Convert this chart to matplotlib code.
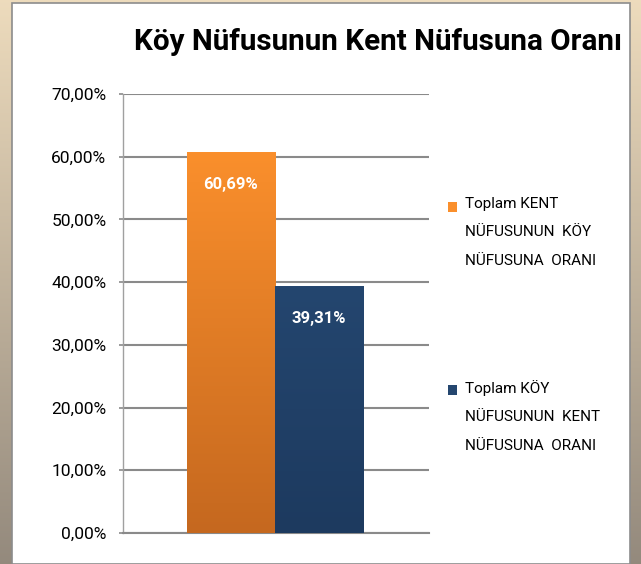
import matplotlib.pyplot as plt
import matplotlib.colors as mc
import numpy as np
from matplotlib.patches import Rectangle

categories = ['Toplam KENT\nNÜFUSUNUN  KÖY\nNÜFUSUNA  ORANI',
              'Toplam KÖY\nNÜFUSUNUN  KENT\nNÜFUSUNA  ORANI']
values = [0.6069, 0.3931]
value_labels = ['60,69%', '39,31%']
yticks = [0.0, 0.1, 0.2, 0.3, 0.4, 0.5, 0.6, 0.7]
ytick_labels = ['0,00%', '10,00%', '20,00%', '30,00%', '40,00%', '50,00%', '60,00%', '70,00%']
title = 'Köy Nüfusunun Kent Nüfusuna Oranı'

top_colors = ['#fa8f2c', '#24466f']
bottom_colors = ['#c5681f', '#1d3a5f']
font = ['Roboto', 'DejaVu Sans']

fig = plt.figure(figsize=(6.41, 5.64), dpi=100)

# frame background: beige-to-gray gradient with a white panel
bg = fig.add_axes([0, 0, 1, 1], zorder=-10)
grad = np.linspace(0, 1, 256)[:, None]
c_top = np.array([0.93, 0.86, 0.74])
c_bot = np.array([0.58, 0.54, 0.49])
img = c_top + (c_bot - c_top) * grad[..., None]
bg.imshow(np.repeat(img, 2, axis=1), aspect='auto', extent=[0, 1, 0, 1])
bg.add_patch(Rectangle((12 / 641, 0), (630 - 12) / 641, 561 / 564,
                       facecolor='white', edgecolor='#8c8c8c', lw=1.2))
bg.set_xlim(0, 1)
bg.set_ylim(0, 1)
bg.axis('off')

ax = fig.add_axes([123 / 641, 1 - 533 / 564, (429 - 123) / 641, (533 - 94) / 564])
ax.set_facecolor('none')

x = np.arange(len(values))
bars = ax.bar(x, values, width=1.0, color=top_colors, edgecolor='none', zorder=3)

# vertical shading inside each bar
for bar, ct, cb in zip(bars, top_colors, bottom_colors):
    t = np.array(mc.to_rgb(ct))
    b = np.array(mc.to_rgb(cb))
    g = np.linspace(0, 1, 128)[:, None, None]
    shade = t + (b - t) * g
    x0, y0 = bar.get_x(), bar.get_y()
    w, h = bar.get_width(), bar.get_height()
    im = ax.imshow(np.repeat(shade, 2, axis=1), aspect='auto',
                   extent=[x0, x0 + w, y0, y0 + h], zorder=4)
    im.set_clip_path(bar)

for xi, v, lab in zip(x, values, value_labels):
    ax.text(xi, v - 0.051, lab, ha='center', va='center', color='white',
            fontsize=12, fontweight='bold', family=font, zorder=5)

ax.set_xlim(-1.227, 2.25)
ax.set_ylim(0, 0.7)
ax.set_yticks(yticks)
ax.set_yticklabels(ytick_labels, family=font, fontsize=12.5)
ax.set_xticks([])
ax.yaxis.grid(True, color='#8a8a8a', lw=1.5, zorder=0)
ax.tick_params(axis='y', length=3, color='#8a8a8a', width=1.2, pad=9)
for s in ['top', 'right']:
    ax.spines[s].set_visible(False)
ax.spines['left'].set_color('#a0a0a0')
ax.spines['left'].set_linewidth(1.0)
ax.spines['bottom'].set_color('#8a8a8a')
ax.spines['bottom'].set_linewidth(1.5)

fig.text(378 / 641, 1 - 42 / 564, title, ha='center', va='center',
         fontsize=21.3, fontweight='bold', family=font)

# legend
leg_y = [207, 390]
for yy, lab, ct in zip(leg_y, categories, top_colors):
    fig.patches.append(Rectangle((448 / 641, 1 - (yy + 5) / 564), 9 / 641, 10 / 564,
                                 transform=fig.transFigure, facecolor=ct,
                                 edgecolor='none', figure=fig))
    fig.text(465 / 641, 1 - (yy - 10) / 564, lab, ha='left', va='top',
             fontsize=11, family=font, linespacing=2.3)

fig.savefig('out.png', dpi=100)
